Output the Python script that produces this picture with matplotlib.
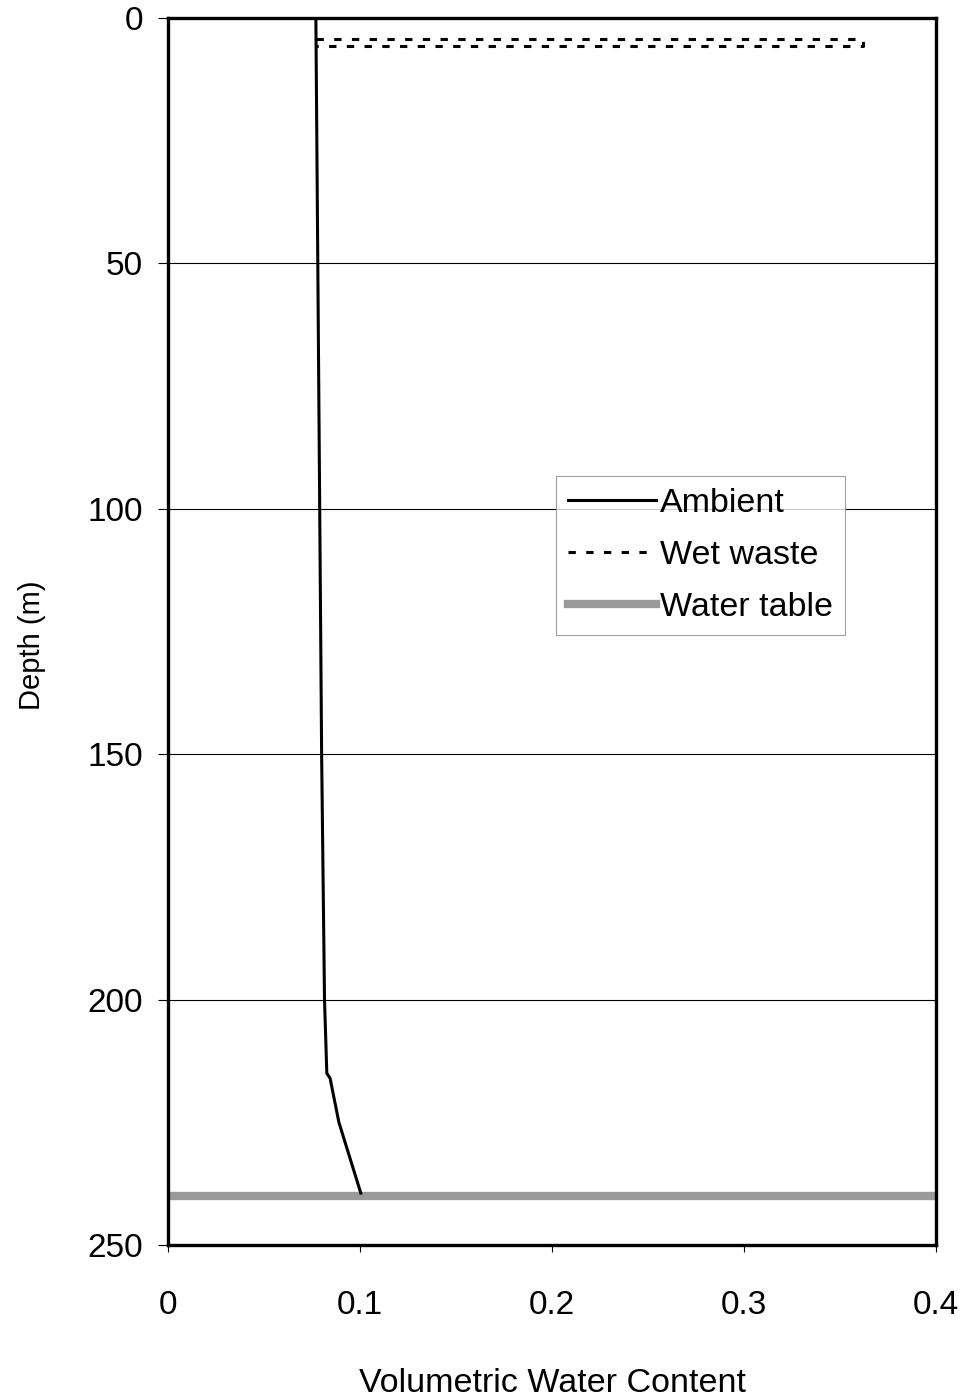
import numpy as np
from matplotlib import pyplot as plt

plt.rcParams['font.family'] = ['Liberation Sans', 'DejaVu Sans']

# perfis de umidade (profundidade em m, conteudo volumetrico)
prof_ambiente = [0, 50, 100, 150, 200, 215, 216, 225, 239.4]
teor_ambiente = [0.077, 0.078, 0.079, 0.080, 0.0815, 0.0827, 0.0844, 0.089, 0.1004]

prof_residuo = [4.3, 4.3, 5.6, 5.6]
teor_residuo = [0.077, 0.362, 0.362, 0.077]

lencol = 240
lencol_x = [0, 0.4]

xticks = [0, 0.1, 0.2, 0.3, 0.4]
xlabels = ['0', '0.1', '0.2', '0.3', '0.4']
yticks = [0, 50, 100, 150, 200, 250]

fig = plt.figure(figsize=(9.69, 13.99), dpi=100)
ax = fig.add_axes([0.1734, 0.110, 0.7926, 0.8771])

ax.plot(teor_ambiente, prof_ambiente, color='black', lw=2.2, label='Ambient', zorder=3)
ax.plot(teor_residuo, prof_residuo, color='black', lw=2.2, dashes=(2.4, 3.4),
        label='Wet waste', zorder=3)
ax.plot(lencol_x, [lencol, lencol], color='#9a9a9a', lw=6, label='Water table', zorder=2)

ax.set_xlim(0, 0.4)
ax.set_ylim(250, 0)
ax.set_xticks(xticks)
ax.set_xticklabels(xlabels)
ax.set_yticks(yticks)
ax.yaxis.grid(True, color='black', lw=0.8)
ax.set_axisbelow(True)

for s in ax.spines.values():
    s.set_linewidth(2.4)

ax.tick_params(axis='x', direction='out', length=5, width=0.8, pad=27, labelsize=24)
ax.tick_params(axis='y', direction='out', length=7, width=0.8, pad=11, labelsize=24)

ax.set_xlabel('Volumetric Water Content', fontsize=24.5, labelpad=34)
ax.set_ylabel('Depth (m)', fontsize=21, labelpad=30, y=0.489)

leg = ax.legend(loc='upper left', bbox_to_anchor=(0.505, 0.627), borderaxespad=0,
                fontsize=24.5, frameon=True, fancybox=False, handlelength=2.6,
                handletextpad=0.12, labelspacing=0.62, borderpad=0.35)
leg.get_frame().set_edgecolor('#888888')
leg.get_frame().set_linewidth(0.8)

fig.savefig('out.png', dpi=100)
